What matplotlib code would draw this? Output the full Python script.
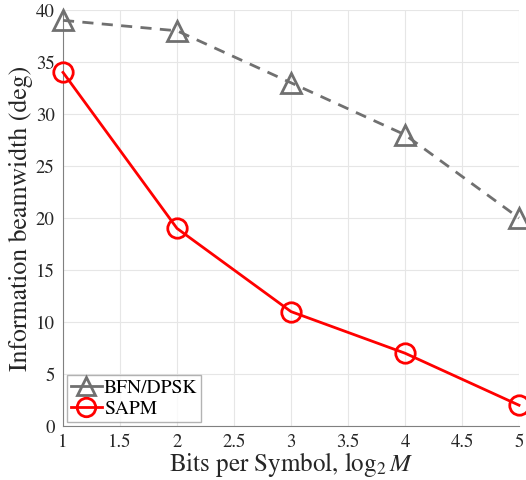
import numpy as np
import matplotlib.pyplot as plt

plt.rcParams['font.family'] = ['STIXGeneral', 'DejaVu Serif']
plt.rcParams['mathtext.fontset'] = 'stix'

bits = [1, 2, 3, 4, 5]
bfn_dpsk = [39, 38, 33, 28, 20]
sapm = [34, 19, 11, 7, 2]

fig = plt.figure(figsize=(5.26, 4.8), dpi=100)
ax = fig.add_axes([0.1198, 0.1125, 0.8669, 0.8667])

ax.plot(bits, bfn_dpsk, '--^', color='#707070', lw=2, ms=14, mfc='none',
        mew=2, dashes=(4, 3), label='BFN/DPSK', clip_on=False, zorder=3)
ax.plot(bits, sapm, '-o', color='#ff0000', lw=2, ms=14, mfc='none',
        mew=2, label='SAPM', clip_on=False, zorder=3)

ax.set_xlim(1, 5)
ax.set_ylim(0, 40)
ax.set_xticks(np.arange(1, 5.01, 0.5))
ax.set_xticklabels(['1', '1.5', '2', '2.5', '3', '3.5', '4', '4.5', '5'])
ax.set_yticks(np.arange(0, 41, 5))
ax.grid(True, color='#e6e6e6', lw=0.8)
ax.set_axisbelow(True)

for s in ['top', 'right']:
    ax.spines[s].set_visible(False)
for s in ['left', 'bottom']:
    ax.spines[s].set_color('#808080')
ax.tick_params(axis='both', which='both', direction='in', length=0,
               labelsize=13.5, colors='#262626', pad=6)

ax.set_xlabel(r'Bits per Symbol, $\log_2 M$', fontsize=18, color='#262626', labelpad=-1)
ax.set_ylabel('Information beamwidth (deg)', fontsize=18.5, color='#262626', labelpad=2)

leg = ax.legend(loc='lower left', fontsize=14, frameon=True, fancybox=False,
                edgecolor='#a0a0a0', borderpad=0.2, handlelength=1.6,
                handletextpad=0.1, labelspacing=0.2, borderaxespad=0.2,
                markerscale=0.95)
leg.get_frame().set_linewidth(1.0)
for h in leg.get_lines():
    h.set_linestyle('-')

fig.savefig('out.png', dpi=100)
